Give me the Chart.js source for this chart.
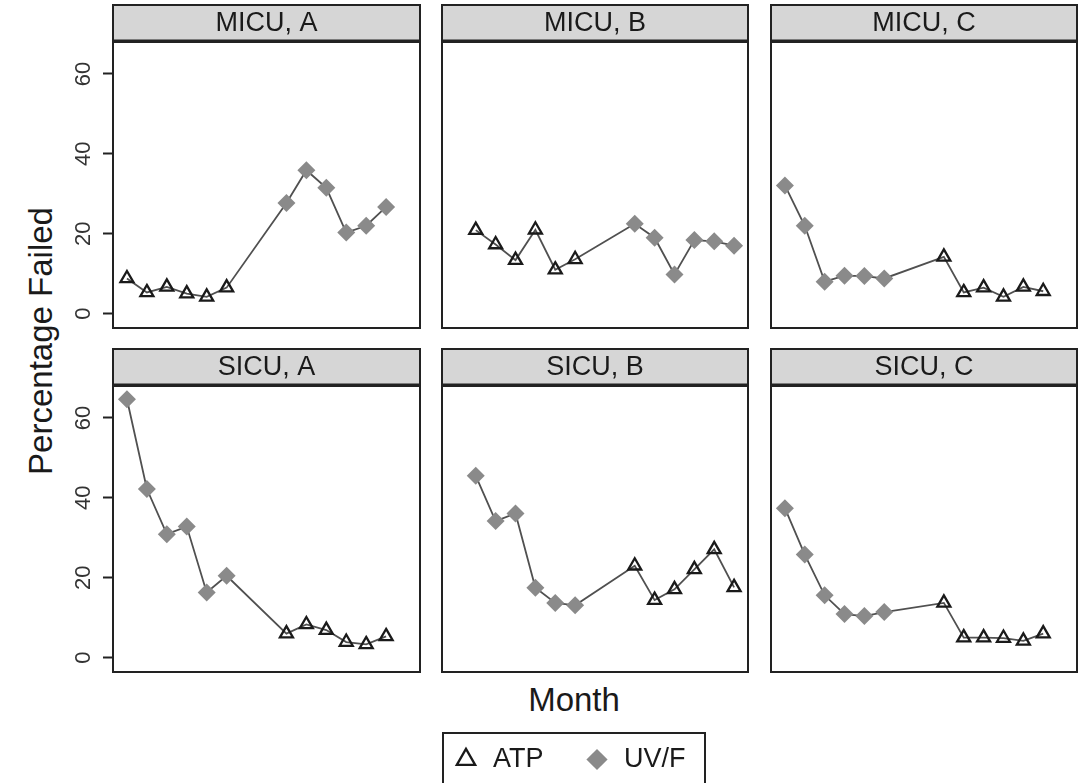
<!DOCTYPE html>
<html>
<head>
<meta charset="utf-8">
<script src="https://cdn.jsdelivr.net/npm/chart.js@4.4.0/dist/chart.umd.min.js"></script>
<style>
html,body{margin:0;padding:0;background:#fff;overflow:hidden;width:1082px;height:783px;}
body{position:relative;font-family:"Liberation Sans",Arial,sans-serif;}
canvas{position:absolute;}
.lbl{position:absolute;white-space:nowrap;line-height:1;color:#1a1a1a;transform-origin:50% 50%;}
#legbox{position:absolute;left:442px;top:732px;width:264px;height:70px;border:2px solid #222;box-sizing:border-box;}
</style>
</head>
<body>
<div id="legbox"></div>
<div class="lbl" style="left:40px;top:341px;font-size:33px;transform:translate(-50%,-50%) rotate(-90deg);">Percentage Failed</div>
<div class="lbl" style="left:574px;top:699px;font-size:33px;transform:translate(-50%,-50%);">Month</div>
<script>
// ---- data ----
const yTicks = [0, 20, 40, 60];
const panelTitles = ['MICU, A', 'MICU, B', 'MICU, C', 'SICU, A', 'SICU, B', 'SICU, C'];
const legendLabels = ['ATP', 'UV/F'];

const micuA_months = [1, 2, 3, 4, 5, 6, 9, 10, 11, 12, 13, 14];
const micuA_pct    = [8.8, 5.3, 6.7, 5.0, 4.2, 6.5, 27.7, 35.9, 31.5, 20.3, 22.0, 26.7];
const micuA_method = ['ATP','ATP','ATP','ATP','ATP','ATP','UV/F','UV/F','UV/F','UV/F','UV/F','UV/F'];

const micuB_months = [2, 3, 4, 5, 6, 7, 10, 11, 12, 13, 14, 15];
const micuB_pct    = [20.9, 17.3, 13.4, 21.0, 11.0, 13.6, 22.5, 19.0, 9.8, 18.4, 18.1, 17.0];
const micuB_method = ['ATP','ATP','ATP','ATP','ATP','ATP','UV/F','UV/F','UV/F','UV/F','UV/F','UV/F'];

const micuC_months = [1, 2, 3, 4, 5, 6, 9, 10, 11, 12, 13, 14];
const micuC_pct    = [32.1, 22.0, 8.0, 9.5, 9.4, 8.8, 14.2, 5.3, 6.5, 4.2, 6.7, 5.6];
const micuC_method = ['UV/F','UV/F','UV/F','UV/F','UV/F','UV/F','ATP','ATP','ATP','ATP','ATP','ATP'];

const sicuA_months = [1, 2, 3, 4, 5, 6, 9, 10, 11, 12, 13, 14];
const sicuA_pct    = [64.7, 42.2, 30.9, 32.8, 16.3, 20.5, 6.0, 8.3, 6.9, 3.9, 3.3, 5.3];
const sicuA_method = ['UV/F','UV/F','UV/F','UV/F','UV/F','UV/F','ATP','ATP','ATP','ATP','ATP','ATP'];

const sicuB_months = [2, 3, 4, 5, 6, 7, 10, 11, 12, 13, 14, 15];
const sicuB_pct    = [45.5, 34.2, 36.1, 17.5, 13.7, 13.1, 23.0, 14.4, 17.1, 22.1, 27.1, 17.6];
const sicuB_method = ['UV/F','UV/F','UV/F','UV/F','UV/F','UV/F','ATP','ATP','ATP','ATP','ATP','ATP'];

const sicuC_months = [1, 2, 3, 4, 5, 6, 9, 10, 11, 12, 13, 14];
const sicuC_pct    = [37.4, 25.8, 15.6, 10.9, 10.4, 11.4, 13.7, 5.0, 5.0, 4.9, 4.2, 6.0];
const sicuC_method = ['UV/F','UV/F','UV/F','UV/F','UV/F','UV/F','ATP','ATP','ATP','ATP','ATP','ATP'];

// ---- styles ----
const FONT = '"Liberation Sans", Arial, sans-serif';
const INK = '#1a1a1a';
const GREY_PT = '#8a8a8a';
const LINE_C = '#505050';
const STRIP_FILL = '#d6d6d6';
const X_MIN = 0.3, X_MAX = 15.7, Y_MIN = -3.6, Y_MAX = 68.2;

const facetPlugin = {
  id: 'facet',
  beforeDraw(chart) {
    const ctx = chart.ctx, a = chart.chartArea, t = chart.titleBlock;
    ctx.save();
    ctx.fillStyle = '#ffffff';
    ctx.fillRect(a.left, a.top, a.right - a.left, a.bottom - a.top);
    ctx.fillStyle = STRIP_FILL;
    ctx.fillRect(a.left, t.top, a.right - a.left, a.top - t.top);
    ctx.restore();
  },
  afterDraw(chart) {
    const ctx = chart.ctx, a = chart.chartArea, t = chart.titleBlock;
    ctx.save();
    ctx.strokeStyle = '#222';
    ctx.lineWidth = 2;
    ctx.strokeRect(a.left, a.top, a.right - a.left, a.bottom - a.top);
    ctx.strokeRect(a.left, t.top, a.right - a.left, a.top - t.top);
    ctx.lineWidth = 3.5;
    ctx.beginPath();
    ctx.moveTo(a.left - 1, a.top);
    ctx.lineTo(a.right + 1, a.top);
    ctx.stroke();
    ctx.restore();
  }
};

const colLeft = [113, 442, 771];
const colRight = [420, 748, 1077];
const stripTop = [5, 349];
const plotBottom = [328, 672];

function makePanel(idx, months, pct, method) {
  const col = idx % 3, row = Math.floor(idx / 3);
  const axisW = col === 0 ? 60 : 0;
  const padL = col === 0 ? 0 : 3;
  const cx = colLeft[col] - axisW - padL;
  const cy = stripTop[row] - 2;
  const cw = colRight[col] + 3 - cx;
  const ch = plotBottom[row] + 3 - cy;
  const cv = document.createElement('canvas');
  cv.width = cw; cv.height = ch;
  cv.style.left = cx + 'px'; cv.style.top = cy + 'px';
  cv.style.width = cw + 'px'; cv.style.height = ch + 'px';
  document.body.appendChild(cv);
  const isATP = c => method[c.dataIndex] === 'ATP';
  new Chart(cv, {
    type: 'line',
    data: {
      datasets: [{
        label: panelTitles[idx],
        data: months.map((m, i) => ({x: m, y: pct[i]})),
        borderColor: LINE_C,
        borderWidth: 1.8,
        tension: 0,
        clip: false,
        pointStyle: c => isATP(c) ? 'triangle' : 'rectRot',
        pointRadius: c => isATP(c) ? 7.5 : 9,
        pointBackgroundColor: c => isATP(c) ? 'rgba(255,255,255,0)' : GREY_PT,
        pointBorderColor: c => isATP(c) ? INK : GREY_PT,
        pointBorderWidth: c => isATP(c) ? 2.3 : 0,
        pointHoverRadius: c => isATP(c) ? 7.5 : 9
      }]
    },
    options: {
      responsive: false,
      animation: false,
      devicePixelRatio: 1,
      layout: {autoPadding: false, padding: {left: padL, right: 3, top: 2, bottom: 3}},
      scales: {
        x: {type: 'linear', min: X_MIN, max: X_MAX, display: false},
        y: {
          type: 'linear', min: Y_MIN, max: Y_MAX, display: col === 0,
          afterBuildTicks: s => { s.ticks = yTicks.map(v => ({value: v})); },
          afterFit: s => { if (col === 0) { s.width = axisW; s.paddingTop = 0; s.paddingBottom = 0; } },
          grid: {drawOnChartArea: false, drawTicks: true, tickLength: 10, tickWidth: 2, tickColor: '#222'},
          border: {display: false},
          ticks: {minRotation: 90, maxRotation: 90, crossAlign: 'center', padding: 7,
                  color: '#333333', font: {family: FONT, size: 22}}
        }
      },
      plugins: {
        legend: {display: false},
        tooltip: {enabled: false},
        title: {
          display: true, text: panelTitles[idx], fullSize: false,
          color: INK, font: {family: FONT, size: 27, weight: 'normal', lineHeight: 1.2},
          padding: {top: 2, bottom: 1.8}
        }
      }
    },
    plugins: [facetPlugin]
  });
}

makePanel(0, micuA_months, micuA_pct, micuA_method);
makePanel(1, micuB_months, micuB_pct, micuB_method);
makePanel(2, micuC_months, micuC_pct, micuC_method);
makePanel(3, sicuA_months, sicuA_pct, sicuA_method);
makePanel(4, sicuB_months, sicuB_pct, sicuB_method);
makePanel(5, sicuC_months, sicuC_pct, sicuC_method);

// ---- legend ----
(function () {
  const cv = document.createElement('canvas');
  const L = 399, T = 706, W = 340, H = 260;
  cv.width = W; cv.height = H;
  cv.style.left = L + 'px'; cv.style.top = T + 'px';
  cv.style.width = W + 'px'; cv.style.height = H + 'px';
  document.body.appendChild(cv);
  new Chart(cv, {
    type: 'line',
    data: {
      datasets: [
        {label: legendLabels[0], data: [], pointStyle: 'triangle', backgroundColor: 'rgba(255,255,255,0)',
         borderColor: INK, borderWidth: 2.3, pointBackgroundColor: 'rgba(255,255,255,0)', pointBorderColor: INK, pointBorderWidth: 2.3},
        {label: legendLabels[1], data: [], pointStyle: 'rectRot', backgroundColor: GREY_PT,
         borderColor: GREY_PT, borderWidth: 0, pointBackgroundColor: GREY_PT, pointBorderColor: GREY_PT, pointBorderWidth: 0}
      ]
    },
    options: {
      responsive: false, animation: false, devicePixelRatio: 1,
      layout: {autoPadding: false, padding: 0},
      scales: {x: {display: false}, y: {display: false}},
      plugins: {
        tooltip: {enabled: false},
        title: {display: false},
        legend: {
          display: true, position: 'top', align: 'center',
          labels: {usePointStyle: true, boxHeight: 15, boxWidth: 40, padding: 40,
                   color: INK, font: {family: FONT, size: 27}}
        }
      }
    }
  });
})();
</script>
</body>
</html>
